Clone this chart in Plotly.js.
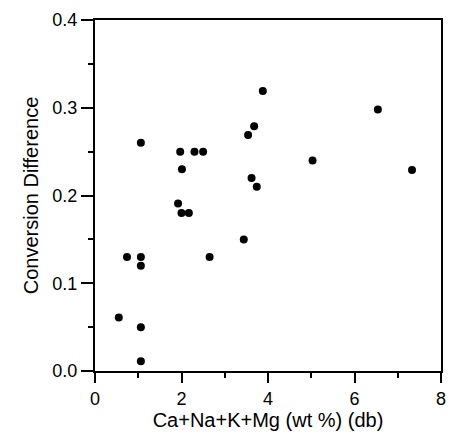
<!DOCTYPE html>
<html>
<head>
<meta charset="utf-8">
<script src="https://cdn.plot.ly/plotly-3.0.1.min.js"></script>
<style>
html,body{margin:0;padding:0;background:#fff;}
#chart{width:450px;height:435px;}
</style>
</head>
<body>
<div id="chart"></div>
<script>
// Ca+Na+K+Mg content (wt %, dry basis)
const alkaliContent = [0.55, 0.74, 1.06, 1.06, 1.06, 1.06, 1.06, 1.92, 1.97, 2.01, 2.0, 2.17, 2.30, 2.50, 2.65, 3.44, 3.54, 3.62, 3.68, 3.74, 3.88, 5.03, 6.54, 7.33];
// Conversion difference
const conversionDiff = [0.061, 0.130, 0.260, 0.130, 0.120, 0.050, 0.011, 0.191, 0.250, 0.230, 0.180, 0.180, 0.250, 0.250, 0.130, 0.150, 0.269, 0.220, 0.279, 0.210, 0.319, 0.240, 0.298, 0.229];

// axis ranges and tick steps (labels: 0,2,4,6,8 and 0.0..0.4)
const xRange = [0, 8];
const yRange = [0, 0.4];
const xMajorStep = 2, xMinorStep = 1;
const yMajorStep = 0.1, yMinorStep = 0.05;

const xTitle = 'Ca+Na+K+Mg (wt %) (db)';
const yTitle = 'Conversion Difference';

const fontFam = 'Liberation Sans, Arial, Helvetica, sans-serif';
const ink = '#000000';

const trace = {
  x: alkaliContent,
  y: conversionDiff,
  type: 'scatter',
  mode: 'markers',
  marker: {color: ink, size: 8},
  hoverinfo: 'skip'
};

const layout = {
  width: 450,
  height: 435,
  margin: {l: 95, r: 9, t: 20, b: 64},
  paper_bgcolor: '#ffffff',
  plot_bgcolor: '#ffffff',
  showlegend: false,
  font: {family: fontFam, color: ink, size: 18},
  xaxis: {
    range: xRange,
    tickmode: 'linear',
    tick0: 0,
    dtick: xMajorStep,
    ticks: 'outside',
    ticklen: 10,
    tickwidth: 2,
    tickcolor: ink,
    showline: true,
    linecolor: ink,
    linewidth: 2,
    mirror: true,
    showgrid: false,
    zeroline: false,
    tickfont: {family: fontFam, size: 18, color: ink},
    minor: {dtick: xMinorStep, tick0: 0, ticks: 'outside', ticklen: 5, tickwidth: 2, tickcolor: ink, showgrid: false},
    title: {text: xTitle, font: {family: fontFam, size: 20, color: ink}, standoff: 4}
  },
  yaxis: {
    range: yRange,
    tickmode: 'linear',
    tick0: 0,
    dtick: yMajorStep,
    tickformat: '.1f',
    ticks: 'outside',
    ticklen: 12,
    tickwidth: 2,
    tickcolor: ink,
    showline: true,
    linecolor: ink,
    linewidth: 2,
    mirror: true,
    showgrid: false,
    zeroline: false,
    tickfont: {family: fontFam, size: 18, color: ink},
    minor: {dtick: yMinorStep, tick0: 0, ticks: 'outside', ticklen: 5, tickwidth: 2, tickcolor: ink, showgrid: false},
    title: {text: yTitle, font: {family: fontFam, size: 20, color: ink}, standoff: 8}
  }
};

Plotly.newPlot('chart', [trace], layout, {staticPlot: true, displayModeBar: false});
</script>
</body>
</html>
